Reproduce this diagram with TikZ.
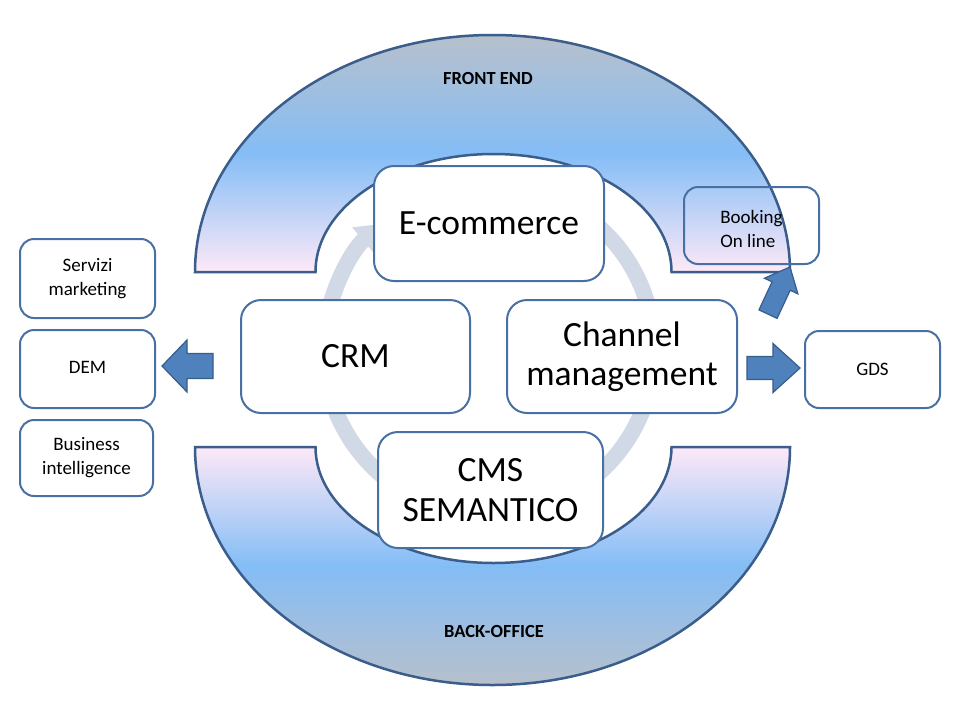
\documentclass[tikz,border=0pt]{standalone}
\usepackage{fontspec}
\setmainfont{Carlito}
\usetikzlibrary{arrows.meta}
\definecolor{archgrey}{HTML}{B7C0CC}
\definecolor{archblue}{HTML}{84BDF6}
\definecolor{archpink}{HTML}{FDE9F7}
\definecolor{archline}{HTML}{3A5D8B}
\definecolor{boxline}{HTML}{4870A3}
\definecolor{ringcol}{HTML}{D1D9E7}
\definecolor{arrfill}{HTML}{4F81BD}
\definecolor{arrline}{HTML}{385D8A}
\begin{document}
\begin{tikzpicture}[x=1pt,y=-1pt,
  bigbox/.style={draw=boxline, line width=2pt, fill=white, rounded corners=20pt, inner sep=0pt, align=center, font=\fontsize{35.5}{39.5}\selectfont},
  smallbox/.style={draw=boxline, line width=2pt, fill=white, rounded corners=14pt, inner sep=0pt, align=center, font=\fontsize{19}{24}\selectfont},
  arch/.style={draw=archline, line width=2.5pt},
  blockarrow/.style={draw=arrline, fill=arrfill, line width=1.2pt, line join=miter},
  archlabel/.style={font=\bfseries\fontsize{18.5}{21}\selectfont}
]
\useasboundingbox (0,0) rectangle (960,720);
\fill[white] (0,0) rectangle (960,720);

% top arch (front end)
\draw[arch, top color=archgrey, bottom color=archpink, middle color=archblue]
  (195,272) arc[start angle=180, end angle=0, x radius=297.5pt, y radius=237pt]
  -- (671.5,272) arc[start angle=0, end angle=180, x radius=178pt, y radius=118pt] -- cycle;
% bottom arch (back office)
\draw[arch, top color=archpink, bottom color=archgrey, middle color=archblue]
  (195,447) arc[start angle=180, end angle=360, x radius=297.5pt, y radius=238pt]
  -- (671.5,447) arc[start angle=360, end angle=180, x radius=178pt, y radius=116pt] -- cycle;

\node[archlabel] (fe) at (488,78) {FRONT END};
\node[archlabel] (bo) at (494,631) {BACK-OFFICE};

% circular arrow
\draw[ringcol, line width=16pt, -{Triangle[width=32pt,length=26pt]}]
  (595.1,223.6) arc[start angle=50, end angle=-230, radius=165pt];

% main boxes
\node[bigbox, minimum width=230pt, minimum height=115pt] (ecom) at (489,223.5) {E-commerce};
\node[bigbox, minimum width=229pt, minimum height=113pt] (crm) at (355.5,356.5) {CRM};
\node[bigbox, minimum width=230pt, minimum height=113pt] (chan) at (622,356.5) {Channel\\management};
\node[bigbox, minimum width=225pt, minimum height=116pt] (cms) at (490.5,490) {CMS\\SEMANTICO};

% side boxes
\node[smallbox, minimum width=135pt, minimum height=79pt] (serv) at (87.5,278.5) {Servizi\\marketing};
\node[smallbox, minimum width=135pt, minimum height=78pt] (dem) at (87.5,369) {\raisebox{4pt}{DEM}};
\node[smallbox, minimum width=133pt, minimum height=76pt] (bi) at (86.5,458) {Business\\intelligence};
\node[smallbox, fill=none, align=left, minimum width=135pt, minimum height=77pt] (book) at (751.5,225.5) {\\[-4pt]Booking\\On line};
\node[smallbox, minimum width=135pt, minimum height=77pt] (gds) at (872.5,369.5) {GDS};

% block arrows
\begin{scope}[shift={(162,366)}, rotate=180]
  \draw[blockarrow] (0,0) -- (-25,26) -- (-25,12.5) -- (-51,12.5) -- (-51,-12.5) -- (-25,-12.5) -- (-25,-26) -- cycle;
\end{scope}
\begin{scope}[shift={(800,368)}]
  \draw[blockarrow] (0,0) -- (-27,24.5) -- (-27,11.5) -- (-53,11.5) -- (-53,-11.5) -- (-27,-11.5) -- (-27,-24.5) -- cycle;
\end{scope}
\begin{scope}[shift={(790,267)}, rotate=65]
  \draw[blockarrow] (0,0) -- (-21,18.5) -- (-21,10) -- (-52,10) -- (-52,-10) -- (-21,-10) -- (-21,-18.5) -- cycle;
\end{scope}
\end{tikzpicture}
\end{document}
